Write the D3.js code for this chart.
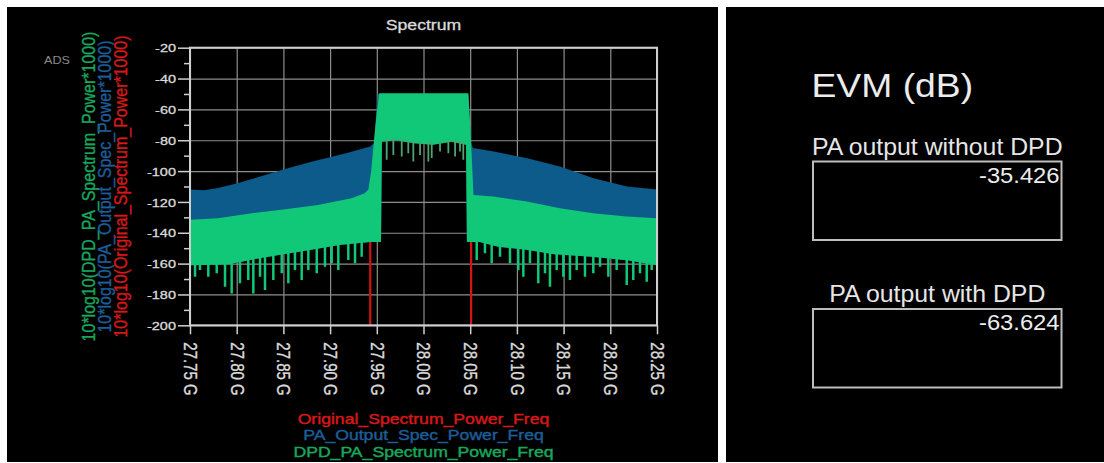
<!DOCTYPE html>
<html>
<head>
<meta charset="utf-8">
<script src="https://cdn.jsdelivr.net/npm/d3@7"></script>
<style>
  html, body { margin: 0; padding: 0; background: #fff; }
  svg { display: block; }
  text { font-family: "Liberation Sans", Arial, sans-serif; }
</style>
</head>
<body>
<svg id="chart" width="1104" height="463"></svg>
<script>
// ---- axis ticks ----
const freqTicks = [27.75, 27.80, 27.85, 27.90, 27.95, 28.00, 28.05, 28.10, 28.15, 28.20, 28.25];
const powerTicks = [-200, -180, -160, -140, -120, -100, -80, -60, -40, -20];
const powerMinorTicks = [-190, -170, -150, -130, -110, -90, -70, -50, -30];

// ---- PA output without DPD (GHz, dB): top of the trace ----
const paUpperFreq = [27.75, 27.765, 27.78, 27.80, 27.82, 27.85, 27.88, 27.90, 27.92, 27.943, 27.947, 27.951,
                     28.048, 28.051, 28.053, 28.075, 28.11, 28.146, 28.182, 28.218, 28.25];
const paUpper     = [-112, -112.5, -111, -108, -104.5, -99, -94, -91, -88, -84, -82, -50,
                     -50, -82, -85, -87.3, -91.6, -97, -104.6, -110, -112];

// ---- PA output with DPD (GHz, dB): top of the trace ----
const dpdUpperFreq = [27.75, 27.78, 27.816, 27.852, 27.887, 27.923, 27.937, 27.941, 27.944, 27.947, 27.950, 27.9525,
                      28.048, 28.050, 28.052, 28.0535, 28.0747, 28.1105, 28.1461, 28.1818, 28.2176, 28.25];
const dpdUpper     = [-131.5, -130.6, -127.4, -124.8, -122, -117.6, -114.4, -112, -100, -80, -62, -49.5,
                      -49.5, -70, -95, -115.5, -116.5, -119.8, -124.1, -127.4, -129.5, -130.6];

// ---- floor of the dense trace (GHz, dB) ----
const floorFreq = [27.75, 27.79, 27.82, 27.85, 27.88, 27.91, 27.943, 27.9545,
                   27.9555, 27.97, 27.99, 28.01, 28.03, 28.0455,
                   28.0465, 28.06, 28.08, 28.11, 28.14, 28.18, 28.22, 28.25];
const floorLevel = [-161, -160.5, -157, -154, -151, -148, -146, -146,
                    -81, -80, -82, -83, -81, -83,
                    -146, -146, -149, -151, -154, -155.5, -158, -161];

// ---- deep minima of the DPD trace (GHz, dB) ----
const dpdDipsLow = [[27.7554, -168.5], [27.7607, -164.2], [27.7696, -168.5], [27.7786, -166.3], [27.7875, -175],
  [27.7946, -179.3], [27.8035, -172.8], [27.8124, -170.6], [27.8178, -179.3], [27.825, -168.5],
  [27.8303, -177.1], [27.8392, -170.6], [27.8482, -166.3], [27.8553, -172.8], [27.8624, -164.2],
  [27.8696, -170.6], [27.8767, -164.2], [27.8857, -166.3], [27.8945, -162], [27.9017, -159.8],
  [27.9088, -164.2], [27.9195, -157.7], [27.9267, -159.8], [27.9338, -155.5]];
const dpdDipsBand = [[27.9606, -92.7], [27.9677, -89.5], [27.9767, -90.6], [27.9837, -88.4], [27.9891, -93.8],
  [27.9963, -89.5], [28.0052, -93.8], [28.0088, -91.6], [28.0177, -87.3], [28.0266, -88.4],
  [28.0338, -90.6], [28.0391, -87.3], [28.0426, -92.7]];
const dpdDipsHigh = [[28.0570, -157.7], [28.0658, -153.3], [28.0730, -159.8], [28.0819, -155.5], [28.0926, -159.8],
  [28.1015, -164.2], [28.1069, -168.5], [28.1140, -159.8], [28.1229, -172.8], [28.1301, -166.3],
  [28.1354, -175], [28.1426, -164.2], [28.1497, -168.5], [28.1568, -170.6], [28.1640, -164.2],
  [28.1729, -168.5], [28.1818, -166.3], [28.1890, -162], [28.1979, -168.5], [28.2068, -164.2],
  [28.2176, -173.9], [28.2246, -170.6], [28.2318, -166.3], [28.2390, -171.7], [28.2443, -164.2]];

// ---- original spectrum (GHz, dB); out of band it sits far below the axis ----
const origFreq  = [27.75, 27.943, 27.943, 27.953, 28.047, 28.051, 28.051, 28.25];
const origPower = [-300, -300, -140, -52, -52, -140, -300, -300];

// ---- legend / axis titles ----
const seriesNames = ["Original_Spectrum_Power_Freq", "PA_Output_Spec_Power_Freq", "DPD_PA_Spectrum_Power_Freq"];
const axisTitles  = ["10*log10(DPD_PA_Spectrum_Power*1000)", "10*log10(PA_Output_Spec_Power*1000)", "10*log10(Original_Spectrum_Power*1000)"];

// ---- EVM readouts ----
const evmTitle  = "EVM (dB)";
const evmLabels = ["PA output without DPD", "PA output with DPD"];
const evmValues = [-35.426, -63.624];

// ================= drawing =================
const svg = d3.select("#chart");
const SX = 1.26;            // horizontal text stretch of the spectrum panel
const C = {
  green: "#10c877", blue: "#0c5b8b", red: "#d41414",
  greenText: "#18a85c", blueText: "#1d5d98", redText: "#d81818",
  grid: "#8e8e8e", frame: "#cfcfcf", tickText: "#dadada"
};
const hyphenMinus = s => s.replace(/\u2212/g, "-");

// panels
svg.append("rect").attr("x", 7).attr("y", 7).attr("width", 711).attr("height", 455).attr("fill", "#000");
svg.append("rect").attr("x", 726).attr("y", 7).attr("width", 378).attr("height", 455).attr("fill", "#000");

const P = { left: 190, top: 47.7, right: 657, bottom: 325.3 };
const x = d3.scaleLinear().domain([27.75, 28.25]).range([P.left, P.right]);
const y = d3.scaleLinear().domain([-200, -20]).range([P.bottom, P.top]);

svg.append("defs").append("clipPath").attr("id", "plotClip")
  .append("rect").attr("x", P.left).attr("y", P.top)
  .attr("width", P.right - P.left).attr("height", P.bottom - P.top);

// grid
svg.append("g").attr("transform", `translate(0,${P.top})`)
  .call(d3.axisBottom(x).tickValues(freqTicks).tickSize(P.bottom - P.top).tickFormat(""))
  .call(g => g.select(".domain").remove())
  .call(g => g.selectAll("line").attr("stroke", C.grid).attr("stroke-width", 1.2));
svg.append("g").attr("transform", `translate(${P.left},0)`)
  .call(d3.axisRight(y).tickValues(powerTicks).tickSize(P.right - P.left).tickFormat(""))
  .call(g => g.select(".domain").remove())
  .call(g => g.selectAll("line").attr("stroke", C.grid).attr("stroke-width", 1.2));

const plot = svg.append("g").attr("clip-path", "url(#plotClip)");
const line = d3.line().x(d => x(d[0])).y(d => y(d[1]));
const zip = (f, v) => f.map((d, i) => [d, v[i]]);

function bandPath(uf, uv, lf, lv) {
  const pts = zip(uf, uv).concat(zip(lf, lv).reverse());
  return line(pts) + "Z";
}

// original spectrum
plot.append("path").attr("d", line(zip(origFreq, origPower)))
  .attr("fill", "none").attr("stroke", C.red).attr("stroke-width", 2.2);

// PA output without DPD
plot.append("path").attr("d", bandPath(paUpperFreq, paUpper, floorFreq, floorLevel))
  .attr("fill", C.blue);

// PA output with DPD
plot.append("path").attr("d", bandPath(dpdUpperFreq, dpdUpper, floorFreq, floorLevel))
  .attr("fill", C.green);

const floorAt = d3.scaleLinear().domain(floorFreq).range(floorLevel);
function dips(data, color, width) {
  plot.append("g").selectAll("line").data(data).join("line")
    .attr("x1", d => x(d[0])).attr("x2", d => x(d[0]))
    .attr("y1", d => y(floorAt(d[0])) - 3).attr("y2", d => y(d[1]))
    .attr("stroke", color).attr("stroke-width", width);
}
dips(dpdDipsLow, C.green, 2.5);
dips(dpdDipsHigh, C.green, 2.5);
dips(dpdDipsBand, "#4fa46f", 1.8);

// frame
svg.append("rect").attr("x", P.left).attr("y", P.top)
  .attr("width", P.right - P.left).attr("height", P.bottom - P.top)
  .attr("fill", "none").attr("stroke", C.frame).attr("stroke-width", 2);

// y axis
svg.append("g").attr("transform", `translate(${P.left},0)`)
  .call(d3.axisLeft(y).tickValues(powerTicks).tickSize(12).tickFormat(d => String(d)))
  .call(g => g.select(".domain").remove())
  .call(g => g.selectAll("line").attr("stroke", C.frame).attr("stroke-width", 1.5))
  .call(g => g.selectAll("text").attr("x", 0).attr("dy", "0.36em")
    .attr("transform", `translate(-14,0) scale(${SX},1)`)
    .attr("font-size", 11.5).attr("fill", C.tickText).attr("font-family", null)
    .attr("stroke", C.tickText).attr("stroke-width", 0.3));
svg.append("g").attr("transform", `translate(${P.left},0)`)
  .call(d3.axisLeft(y).tickValues(powerMinorTicks).tickSize(6).tickFormat(""))
  .call(g => g.select(".domain").remove())
  .call(g => g.selectAll("line").attr("stroke", C.frame).attr("stroke-width", 1.5));

// x axis
svg.append("g").attr("transform", `translate(0,${P.bottom})`)
  .call(d3.axisBottom(x).tickValues(freqTicks).tickSize(9).tickFormat(d => d3.format(".2f")(d) + " G"))
  .call(g => g.select(".domain").remove())
  .call(g => g.selectAll("line").attr("stroke", C.frame).attr("stroke-width", 1.5))
  .call(g => g.selectAll("text").attr("y", 0).attr("dy", "0.35em").attr("text-anchor", "start")
    .attr("transform", `translate(0,17) scale(${SX},1) rotate(90)`)
    .attr("font-size", 15).attr("fill", C.tickText).attr("font-family", null)
    .attr("stroke", C.tickText).attr("stroke-width", 0.3));

function stretched(txt, px, py, o) {
  const t = svg.append("text")
    .attr("transform", `translate(${px},${py}) scale(${o.sx || 1},1) rotate(${o.rot || 0})`)
    .attr("text-anchor", o.anchor || "start")
    .attr("font-size", o.size).attr("fill", o.fill).text(txt);
  if (o.weight) t.attr("stroke", o.fill).attr("stroke-width", o.weight);
  return t;
}

// title and tag
stretched("Spectrum", (P.left + P.right) / 2, 29.5, { sx: SX, anchor: "middle", size: 14, fill: C.tickText, weight: 0.3 });
stretched("ADS", 44, 63.5, { sx: SX, size: 10, fill: "#8a8a8a" });

// y axis titles
const titleColors = [C.greenText, C.blueText, C.redText];
const titleX = [95, 111, 127];
axisTitles.forEach((t, i) =>
  stretched(t, titleX[i], (P.top + P.bottom) / 2, { sx: 1.2, rot: -90, anchor: "middle", size: 16, fill: titleColors[i], weight: 0.3 }));

// legend
const legendColors = [C.redText, C.blueText, C.greenText];
const legendY = [423.5, 440, 456.5];
seriesNames.forEach((t, i) =>
  stretched(t, (P.left + P.right) / 2, legendY[i], { sx: SX, anchor: "middle", size: 14, fill: legendColors[i], weight: 0.4 }));

// ================= EVM panel =================
const R = { left: 813, right: 1061.5 };
stretched(evmTitle, 811.5, 97, { sx: 1.13, size: 33, fill: "#ececec" });

const boxTop = d3.scaleLinear().domain([0, 1]).range([161.5, 309]);
evmLabels.forEach((lab, i) => {
  const top = boxTop(i);
  stretched(lab, (R.left + R.right) / 2, top - 7, { sx: 1.08, anchor: "middle", size: 23, fill: "#e6e6e6" });
  svg.append("rect").attr("x", R.left).attr("y", top)
    .attr("width", R.right - R.left).attr("height", 78.5)
    .attr("fill", "none").attr("stroke", "#bdbdbd").attr("stroke-width", 2);
  stretched(hyphenMinus(d3.format(".3f")(evmValues[i])), R.right - 2, top + 21,
    { sx: 1.08, anchor: "end", size: 22, fill: "#ececec" });
});
</script>
</body>
</html>
